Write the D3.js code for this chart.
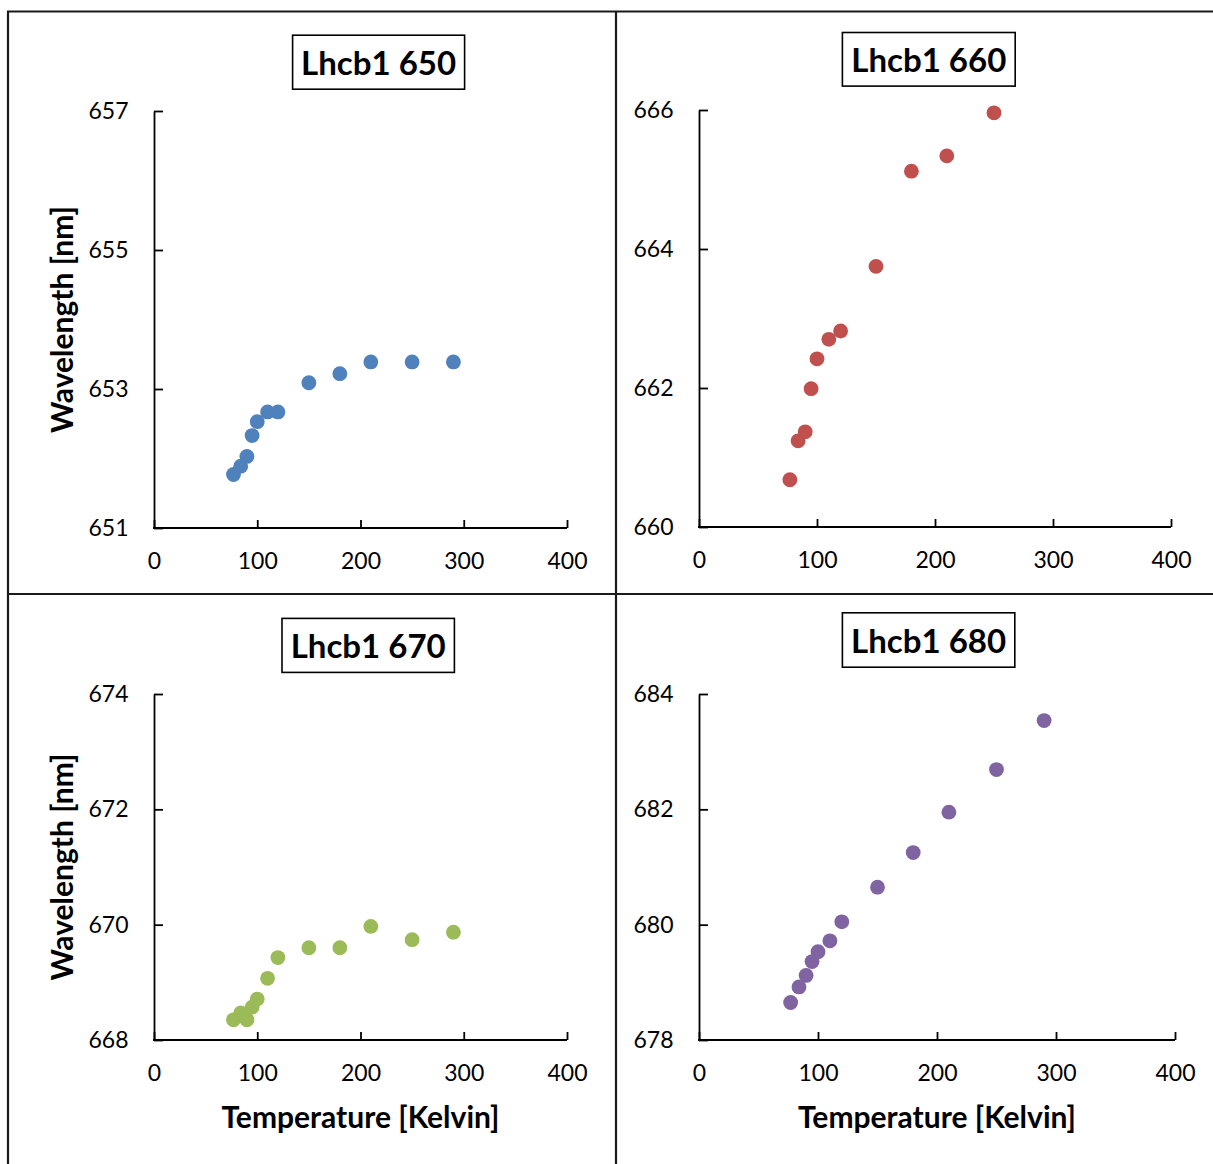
<!DOCTYPE html>
<html>
<head>
<meta charset="utf-8">
<script src="https://cdn.jsdelivr.net/npm/d3@7"></script>
<style>
  html, body { margin: 0; padding: 0; background: #fff; }
  svg { display: block; }
  text { font-family: Lato, "Open Sans", sans-serif; fill: #000; }
</style>
</head>
<body>
<script>
// Temperatures shared by all four complexes (Kelvin)
const temps = [77, 84, 90, 95, 100, 110, 120, 150, 180, 210, 250, 290];

// Peak wavelengths (nm) for each emission band
const wl650 = [651.77, 651.89, 652.03, 652.33, 652.53, 652.67, 652.67, 653.09, 653.22, 653.39, 653.39, 653.39];
const wl660 = [660.68, 661.24, 661.37, 661.99, 662.42, 662.70, 662.82, 663.75, 665.12, 665.34, 665.96];
const wl670 = [668.35, 668.47, 668.35, 668.57, 668.71, 669.07, 669.43, 669.60, 669.60, 669.97, 669.74, 669.87];
const wl680 = [678.65, 678.92, 679.12, 679.36, 679.53, 679.72, 680.05, 680.65, 681.25, 681.95, 682.69, 683.54];

const titles = ["Lhcb1 650", "Lhcb1 660", "Lhcb1 670", "Lhcb1 680"];
const yDomains = [[651, 657], [660, 666], [668, 674], [678, 684]];
const yTicks = [[651, 653, 655, 657], [660, 662, 664, 666], [668, 670, 672, 674], [678, 680, 682, 684]];
const xTicks = [0, 100, 200, 300, 400];
const xLabel = "Temperature [Kelvin]";
const yLabel = "Wavelength [nm]";
const colors = ["#4F81BD", "#C0504D", "#9BBB59", "#8064A2"];
const series = [wl650, wl660, wl670, wl680];

// Plot-area geometry of each panel and its title box
const layout = [
  { l: 154, r: 567, t: 111, b: 528, box: [292.6, 35.2, 172, 54], yTitle: true,  xTitle: false },
  { l: 699, r: 1171, t: 110, b: 527, box: [842.4, 32.5, 172.8, 53.6], yTitle: false, xTitle: false },
  { l: 154, r: 567, t: 694, b: 1040, box: [282, 618.4, 172.4, 54], yTitle: true,  xTitle: true },
  { l: 699, r: 1175, t: 694, b: 1040, box: [842.4, 612.8, 172.4, 54.4], yTitle: false, xTitle: true }
];

const W = 1213, H = 1164;
const svg = d3.select("body").append("svg").attr("width", W).attr("height", H);

// Panel frame lines
const frame = svg.append("g").attr("stroke", "#1a1a1a").attr("stroke-width", 2.2);
frame.append("line").attr("x1", 8).attr("x2", 8).attr("y1", 11.5).attr("y2", H);
frame.append("line").attr("x1", 7).attr("x2", W).attr("y1", 11.5).attr("y2", 11.5);
frame.append("line").attr("x1", 616).attr("x2", 616).attr("y1", 11.5).attr("y2", H);
frame.append("line").attr("x1", 7).attr("x2", W).attr("y1", 594).attr("y2", 594);

series.forEach((vals, i) => {
  const L = layout[i];
  const g = svg.append("g");
  const x = d3.scaleLinear().domain([0, 400]).range([L.l, L.r]);
  const y = d3.scaleLinear().domain(yDomains[i]).range([L.b, L.t]);

  // Axes with inside tick marks
  const xAxis = g.append("g").attr("transform", `translate(0,${L.b})`)
    .call(d3.axisBottom(x).tickValues(xTicks).tickFormat(d3.format("d"))
      .tickSizeInner(-8).tickSizeOuter(0).tickPadding(25));
  const yAxis = g.append("g").attr("transform", `translate(${L.l},0)`)
    .call(d3.axisLeft(y).tickValues(yTicks[i]).tickFormat(d3.format("d"))
      .tickSizeInner(-9).tickSizeOuter(0).tickPadding(25.5));
  [xAxis, yAxis].forEach(a => {
    a.selectAll("path, line").attr("stroke", "#000").attr("stroke-width", 1.8);
    a.selectAll("text").attr("font-size", 23).attr("font-family", "Lato, sans-serif").attr("fill", "#000");
  });
  xAxis.select(".domain").attr("d", `M${L.l - 1},0H${L.r}`);

  // Data points
  g.append("g").selectAll("circle")
    .data(vals.map((v, k) => [temps[k], v]))
    .join("circle")
    .attr("cx", d => x(d[0]))
    .attr("cy", d => y(d[1]))
    .attr("r", 7.4)
    .attr("fill", colors[i]);

  // Boxed panel title
  const [bx, by, bw, bh] = L.box;
  g.append("rect").attr("x", bx).attr("y", by).attr("width", bw).attr("height", bh)
    .attr("fill", "#fff").attr("stroke", "#000").attr("stroke-width", 1.6);
  g.append("text").attr("x", bx + bw / 2).attr("y", by + bh / 2 + 12.5)
    .attr("text-anchor", "middle").attr("font-size", 33).attr("font-weight", 700)
    .text(titles[i]);

  if (L.yTitle) {
    g.append("text")
      .attr("transform", `translate(73,${(L.t + L.b) / 2}) rotate(-90)`)
      .attr("text-anchor", "middle").attr("font-size", 30).attr("font-weight", 700)
      .text(yLabel);
  }
  if (L.xTitle) {
    g.append("text").attr("x", (L.l + L.r) / 2).attr("y", 1128)
      .attr("text-anchor", "middle").attr("font-size", 30).attr("font-weight", 700)
      .text(xLabel);
  }
});
</script>
</body>
</html>
